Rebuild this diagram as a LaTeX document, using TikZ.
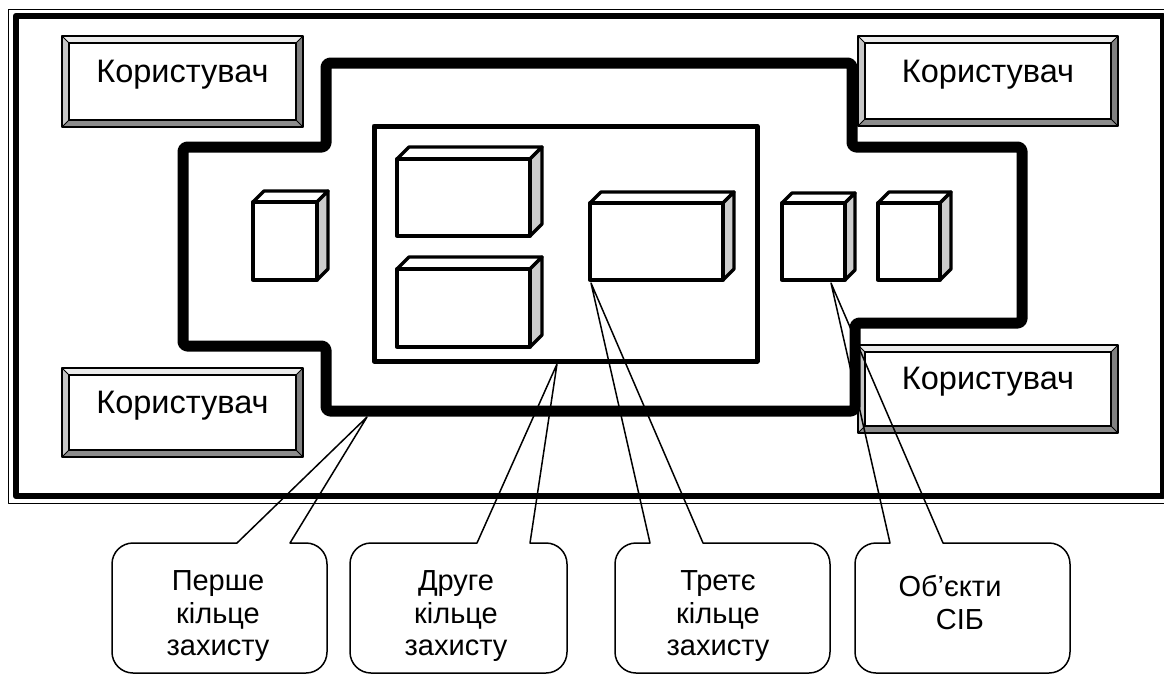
\documentclass[tikz,border=0pt]{standalone}
\usepackage{fontspec}
\setmainfont{Liberation Sans}

% bevelled "button" box: x1 y1 x2 y2
\newcommand\bevelbox[4]{%
  \fill[black!8]  (#1,#2) -- (#3,#2) -- (#3-7,#2+7) -- (#1+7,#2+7) -- cycle;
  \fill[black!22] (#1,#2) -- (#1+7,#2+7) -- (#1+7,#4-7) -- (#1,#4) -- cycle;
  \fill[black!50] (#3,#2) -- (#3,#4) -- (#3-7,#4-7) -- (#3-7,#2+7) -- cycle;
  \fill[black!45] (#1,#4) -- (#3,#4) -- (#3-7,#4-7) -- (#1+7,#4-7) -- cycle;
  \draw[line width=1pt] (#1,#2) -- (#1+7,#2+7) (#3,#2) -- (#3-7,#2+7)
                        (#3,#4) -- (#3-7,#4-7) (#1,#4) -- (#1+7,#4-7);
  \draw[line width=2pt] (#1,#2) rectangle (#3,#4);
  \draw[line width=1.6pt] (#1+7,#2+7) rectangle (#3-7,#4-7);
}

% cuboid: front face x1 y1 x2 y2, depth d
\newcommand\cuboid[5]{%
  \filldraw[cube edge,fill=white] (#1,#2) -- (#1+#5,#2-#5) -- (#3+#5,#2-#5) -- (#3,#2) -- cycle;
  \filldraw[cube edge,side face] (#3,#2) -- (#3+#5,#2-#5) -- (#3+#5,#4-#5) -- (#3,#4) -- cycle;
  \filldraw[cube edge,fill=white] (#1,#2) rectangle (#3,#4);
}

% rounded callout: left right pointer-base-1 pointer-base-2 tip
\newcommand\callout[5]{%
  \draw[callout line] (#3,543) -- (#5) -- (#4,543) -- (#2-21,543)
    arc[start angle=270,end angle=360,radius=21] -- (#2,673-21)
    arc[start angle=0,end angle=90,radius=21] -- (#1+21,673)
    arc[start angle=90,end angle=180,radius=21] -- (#1,543+21)
    arc[start angle=180,end angle=270,radius=21] -- cycle;
}

\begin{document}
\begin{tikzpicture}[x=1pt,y=-1pt,line join=round,
  frame thin/.style={line width=1.5pt},
  frame thick/.style={line width=6.5pt},
  ring one/.style={line width=11pt,rounded corners=4pt},
  ring two/.style={line width=5pt},
  cube edge/.style={line width=3.3pt},
  side face/.style={fill=black!20},
  callout line/.style={line width=1.5pt},
  user label/.style={font=\fontsize{32.5}{38}\selectfont,anchor=base,inner sep=0pt},
  callout label/.style={font=\fontsize{29}{34}\selectfont,anchor=base,inner sep=0pt},
]
\useasboundingbox (0,0) rectangle (1164,675);
\fill[white] (0,0) rectangle (1164,675);

% outer double frame
\draw[frame thin] (8.5,9.5) rectangle (1172,503.5);
\draw[frame thick] (16,16) rectangle (1163,496);

% users
\bevelbox{62}{36}{303}{127}
\bevelbox{858}{36}{1118}{126}
\bevelbox{62}{368}{303}{457}
\bevelbox{858}{345}{1118}{433}
\node[user label] (userTL) at (182.5,82) {Користувач};
\node[user label] (userTR) at (988,82) {Користувач};
\node[user label] (userBL) at (182.5,413) {Користувач};
\node[user label] (userBR) at (988,389) {Користувач};

% first protection ring
\draw[ring one] (326,63) -- (852,63) -- (852,147) -- (1022,147) -- (1022,323)
  -- (855,323) -- (855,411) -- (326,411) -- (326,346) -- (183,346)
  -- (183,147) -- (326,147) -- cycle;

% second protection ring
\draw[ring two] (374,126) rectangle (757,361);

% protected objects
\cuboid{253}{202}{317}{280}{11}
\cuboid{397}{159}{530}{236}{12}
\cuboid{397}{269}{530}{347}{12}
\cuboid{590}{203}{723}{280}{11}
\cuboid{782}{203}{845}{280}{10}
\cuboid{878}{203}{940}{280}{11}

% callout targets
\coordinate (tipA) at (367,417);
\coordinate (tipB) at (557,364);
\coordinate (tipC) at (591,283);
\coordinate (tipD) at (831,283);

\callout{112}{327}{237}{290}{tipA}
\callout{350}{567}{477}{530}{tipB}
\callout{615}{830}{650}{703}{tipC}
\callout{855}{1070}{890}{943}{tipD}

\node[callout label] (ringA1) at (218,590) {Перше};
\node[callout label] (ringA2) at (218,623) {кільце};
\node[callout label] (ringA3) at (218,655) {захисту};
\node[callout label] (ringB1) at (456,590) {Друге};
\node[callout label] (ringB2) at (456,623) {кільце};
\node[callout label] (ringB3) at (456,655) {захисту};
\node[callout label] (ringC1) at (718,590) {Третє};
\node[callout label] (ringC2) at (718,623) {кільце};
\node[callout label] (ringC3) at (718,655) {захисту};
\node[callout label] (objD1) at (950,596) {Об’єкти};
\node[callout label] (objD2) at (960,629) {СІБ};
\end{tikzpicture}
\end{document}
